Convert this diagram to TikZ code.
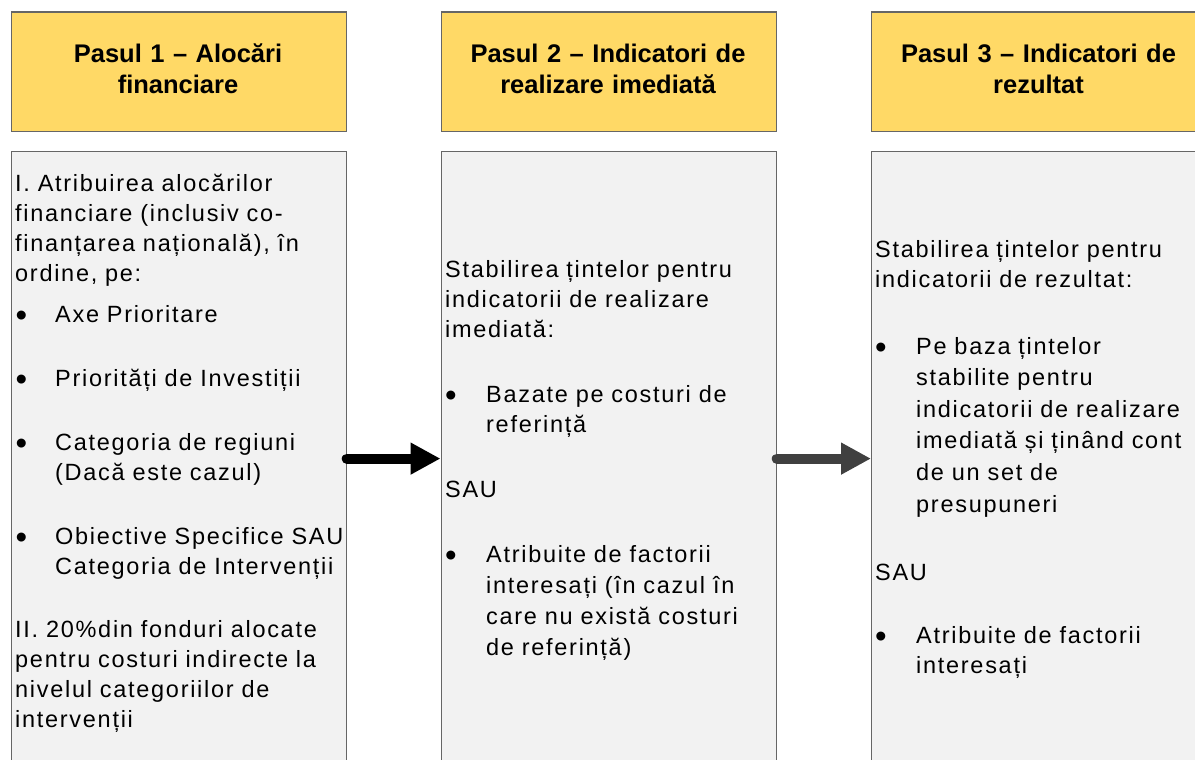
\documentclass[tikz,border=0pt]{standalone}
\usepackage{fontspec}
\setmainfont{Liberation Sans}
\newfontfamily\bodyfont[LetterSpace=7.3]{Liberation Sans}
\usetikzlibrary{arrows.meta}
\definecolor{hdrfill}{HTML}{FFD966}
\definecolor{boxline}{HTML}{666666}
\definecolor{bodyfill}{HTML}{F2F2F2}
\definecolor{arrowgray}{HTML}{404040}
\begin{document}
\begin{tikzpicture}[x=1pt,y=-1pt,
  hdr/.style={draw=boxline, line width=1.2pt, fill=hdrfill, minimum width=335pt, minimum height=119pt, inner sep=0pt, anchor=north west},
  bodybox/.style={draw=boxline, line width=1.2pt, fill=bodyfill, minimum width=335pt, minimum height=615pt, inner sep=0pt, anchor=north west},
  hdrtext/.style={anchor=base, text width=320pt, align=center, inner sep=0pt, font=\fontsize{25.5}{31}\selectfont\bfseries},
  para/.style={anchor=base west, text width=330pt, align=left, inner sep=0pt, font=\bodyfont\fontsize{23.5}{30}\selectfont},
  bul/.style={anchor=base, inner sep=0pt, yshift=-4pt, font=\fontsize{33}{30}\selectfont},
  flow/.style={line width=10pt, line cap=round, -{Triangle[length=30pt,width=30pt]}}
]
\useasboundingbox (0,0) rectangle (1195,760);
\clip (0,0) rectangle (1195,760);
\fill[white] (0,0) rectangle (1195,760);

% headers
\node[hdr] (h1) at (10.5,11.5) {};
\node[hdr] (h2) at (440.5,11.5) {};
\node[hdr] (h3) at (871,11.5) {};
\node[hdrtext] (h1t) at (178,63) {Pasul 1 – Alocări\\financiare};
\node[hdrtext] (h2t) at (608,63) {Pasul 2 – Indicatori de\\realizare imediată};
\node[hdrtext] (h3t) at (1038.5,63) {Pasul 3 – Indicatori de\\rezultat};

% bodies
\node[bodybox] (b1) at (10.5,150.5) {};
\node[bodybox] (b2) at (440.5,150.5) {};
\node[bodybox] (b3) at (871,150.5) {};

% body 1
\node[para] (p1a) at (15,191) {I. Atribuirea alocărilor\\financiare (inclusiv co-\\finanțarea națională), în\\ordine, pe:};
\node[bul] (d1a) at (21.5,322) {•};
\node[para] (p1b) at (55,322) {Axe Prioritare};
\node[bul] (d1b) at (21.5,386) {•};
\node[para] (p1c) at (55,386) {Priorități de Investiții};
\node[bul] (d1c) at (21.5,450) {•};
\node[para] (p1d) at (55,450) {Categoria de regiuni\\(Dacă este cazul)};
\node[bul] (d1d) at (21.5,544) {•};
\node[para] (p1e) at (55,544) {Obiective Specifice SAU\\Categoria de Intervenții};
\node[para] (p1f) at (15,637) {II. 20\%din fonduri alocate\\pentru costuri indirecte la\\nivelul categoriilor de\\intervenții};

% body 2
\node[para] (p2a) at (445,277) {Stabilirea țintelor pentru\\indicatorii de realizare\\imediată:};
\node[bul] (d2a) at (451,402) {•};
\node[para] (p2b) at (486,402) {Bazate pe costuri de\\referință};
\node[para] (p2c) at (445,497) {SAU};
\node[bul] (d2b) at (451,562) {•};
\node[para, font=\bodyfont\fontsize{23.5}{31}\selectfont] (p2d) at (486,562) {Atribuite de factorii\\interesați (în cazul în\\care nu există costuri\\de referință)};

% body 3
\node[para] (p3a) at (875,257) {Stabilirea țintelor pentru\\indicatorii de rezultat:};
\node[bul] (d3a) at (881,354) {•};
\node[para, font=\bodyfont\fontsize{23.5}{31.6}\selectfont] (p3b) at (916,354) {Pe baza țintelor\\stabilite pentru\\indicatorii de realizare\\imediată și ținând cont\\de un set de\\presupuneri};
\node[para] (p3c) at (875,580) {SAU};
\node[bul] (d3b) at (881,643) {•};
\node[para] (p3d) at (916,643) {Atribuite de factorii\\interesați};

% arrows
\draw[flow, color=black] (b1.east) -- (b2.west);
\draw[flow, color=arrowgray] (b2.east) -- (b3.west);
\end{tikzpicture}
\end{document}
